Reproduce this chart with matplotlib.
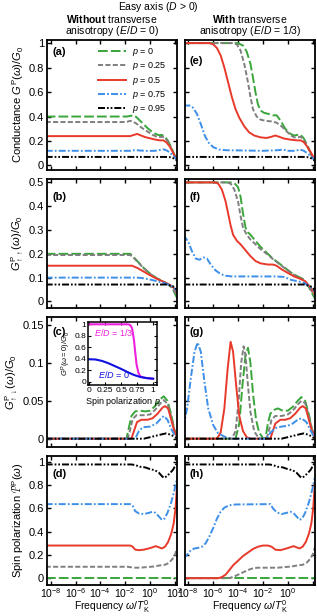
import numpy as np
import matplotlib
matplotlib.use('Agg')
import matplotlib.pyplot as plt

plt.rcParams['font.family'] = ['Liberation Sans', 'DejaVu Sans']
plt.rcParams['mathtext.fontset'] = 'custom'
plt.rcParams['mathtext.rm'] = 'Liberation Sans'
plt.rcParams['mathtext.it'] = 'Liberation Sans:italic'
plt.rcParams['mathtext.bf'] = 'Liberation Sans:bold'
plt.rcParams['font.size'] = 8

# ---- data: x values are log10(omega / T_K^0) ----
p_labels = ['0', '0.25', '0.5', '0.75', '0.95']

# (a) conductance, E/D = 0
a0_x = [-8.4, -1.9, -1.6, -1.35, -1.1, -0.8, -0.5, -0.2, 0.1, 0.4, 0.7, 0.95, 1.2, 1.45, 1.7, 1.95, 2.2]
a0_y = [0.40, 0.40, 0.405, 0.41, 0.395, 0.365, 0.335, 0.305, 0.28, 0.26, 0.248, 0.25, 0.235, 0.2, 0.15, 0.09, 0.03]
a25_x = [-8.4, -1.9, -1.6, -1.3, -1.0, -0.7, -0.4, -0.1, 0.2, 0.5, 0.8, 1.0, 1.25, 1.5, 1.75, 2.0, 2.2]
a25_y = [0.355, 0.355, 0.365, 0.355, 0.335, 0.31, 0.29, 0.27, 0.25, 0.237, 0.232, 0.235, 0.22, 0.185, 0.13, 0.07, 0.03]
a50_x = [-8.4, -1.6, -1.3, -1.05, -0.8, -0.4, 0.0, 0.4, 0.8, 1.05, 1.3, 1.55, 1.8, 2.0, 2.2]
a50_y = [0.24, 0.24, 0.25, 0.258, 0.248, 0.232, 0.222, 0.212, 0.205, 0.206, 0.19, 0.16, 0.115, 0.075, 0.04]
a75_x = [-8.4, -1.6, -1.2, -0.8, -0.2, 0.4, 0.8, 1.1, 1.4, 1.7, 1.95, 2.2]
a75_y = [0.12, 0.12, 0.126, 0.122, 0.119, 0.12, 0.127, 0.132, 0.12, 0.095, 0.07, 0.045]
a95_x = [-8.4, 1.2, 1.6, 1.9, 2.2]
a95_y = [0.07, 0.07, 0.068, 0.058, 0.04]

# (e) conductance, E/D = 1/3
e0_x = [-8.4, -4.0, -3.6, -3.3, -3.0, -2.8, -2.6, -2.4, -2.2, -1.9, -1.5, -1.2, -0.9, -0.6, -0.2, 0.2, 0.5, 0.8, 1.05, 1.3, 1.6, 1.9, 2.2]
e0_y = [1.0, 1.0, 0.98, 0.93, 0.83, 0.72, 0.6, 0.5, 0.45, 0.43, 0.42, 0.41, 0.41, 0.37, 0.3, 0.26, 0.245, 0.25, 0.25, 0.22, 0.16, 0.09, 0.03]
e25_x = [-8.4, -4.4, -4.1, -3.8, -3.5, -3.2, -3.0, -2.8, -2.5, -2.2, -1.8, -1.3, -0.9, -0.5, -0.2, 0.2, 0.5, 0.8, 1.05, 1.3, 1.6, 1.9, 2.2]
e25_y = [1.0, 1.0, 0.99, 0.94, 0.83, 0.68, 0.56, 0.46, 0.4, 0.375, 0.365, 0.36, 0.35, 0.32, 0.29, 0.25, 0.23, 0.23, 0.235, 0.21, 0.15, 0.08, 0.03]
e50_x = [-8.4, -6.3, -6.0, -5.7, -5.4, -5.1, -4.8, -4.5, -4.2, -3.9, -3.5, -3.1, -2.7, -2.2, -1.7, -1.3, -1.0, -0.7, -0.3, 0.3, 0.8, 1.05, 1.3, 1.6, 1.9, 2.2]
e50_y = [1.0, 1.0, 0.99, 0.96, 0.9, 0.8, 0.68, 0.56, 0.46, 0.39, 0.32, 0.27, 0.245, 0.23, 0.225, 0.235, 0.245, 0.235, 0.22, 0.21, 0.205, 0.205, 0.19, 0.15, 0.1, 0.04]
e75_x = [-8.4, -7.9, -7.6, -7.3, -7.0, -6.7, -6.4, -6.0, -5.5, -5.0, -2.0, -0.8, -0.4, 0.0, 0.6, 1.0, 1.3, 1.7, 2.2]
e75_y = [0.49, 0.49, 0.47, 0.42, 0.34, 0.25, 0.19, 0.15, 0.13, 0.125, 0.12, 0.125, 0.13, 0.12, 0.12, 0.13, 0.12, 0.09, 0.04]

# (b) G_up,up, E/D = 0
b0_x = [-8.4, -1.6, -1.3, -1.0, -0.5, 0.0, 0.55, 1.1, 1.5, 1.8, 2.05, 2.2]
b0_y = [0.2, 0.2, 0.185, 0.168, 0.14, 0.117, 0.097, 0.083, 0.07, 0.055, 0.027, 0.012]
b25_x = [-8.4, -1.6, -1.3, -1.0, -0.5, 0.0, 0.55, 1.1, 1.5, 1.8, 2.05, 2.2]
b25_y = [0.195, 0.195, 0.182, 0.166, 0.139, 0.116, 0.096, 0.082, 0.07, 0.058, 0.035, 0.02]
b50_x = [-8.4, -1.45, -1.0, -0.5, 0.0, 0.55, 1.1, 1.5, 1.8, 2.05, 2.2]
b50_y = [0.15, 0.15, 0.14, 0.125, 0.11, 0.095, 0.082, 0.072, 0.062, 0.048, 0.035]
b75_x = [-8.4, -1.0, -0.5, 0.0, 0.55, 1.1, 1.5, 1.8, 2.05, 2.2]
b75_y = [0.1, 0.1, 0.097, 0.092, 0.085, 0.078, 0.07, 0.063, 0.05, 0.04]
b95_x = [-8.4, 1.3, 1.7, 2.0, 2.2]
b95_y = [0.071, 0.071, 0.066, 0.06, 0.045]

# (f) G_up,up, E/D = 1/3
f0_x = [-8.4, -4.6, -4.3, -4.0, -3.8, -3.6, -3.4, -3.2, -3.0, -2.6, -2.2, -1.7, -1.2, -0.7, -0.2, 0.3, 0.8, 1.2, 1.6, 1.9, 2.2]
f0_y = [0.5, 0.5, 0.497, 0.48, 0.44, 0.37, 0.31, 0.29, 0.28, 0.255, 0.23, 0.205, 0.18, 0.16, 0.14, 0.12, 0.105, 0.095, 0.07, 0.04, 0.01]
f25_x = [-8.4, -4.9, -4.6, -4.3, -4.0, -3.8, -3.6, -3.3, -3.0, -2.6, -2.2, -1.7, -1.2, -0.7, -0.2, 0.3, 0.8, 1.2, 1.6, 1.9, 2.2]
f25_y = [0.5, 0.5, 0.495, 0.47, 0.42, 0.36, 0.31, 0.28, 0.26, 0.24, 0.22, 0.2, 0.178, 0.158, 0.138, 0.118, 0.103, 0.093, 0.072, 0.045, 0.02]
f50_x = [-8.4, -5.9, -5.6, -5.3, -5.0, -4.8, -4.6, -4.4, -4.1, -3.8, -3.4, -3.0, -2.6, -2.2, -1.6, -1.2, -0.9, -0.5, 0.0, 0.5, 1.0, 1.4, 1.8, 2.2]
f50_y = [0.5, 0.5, 0.495, 0.47, 0.42, 0.37, 0.32, 0.28, 0.255, 0.24, 0.215, 0.19, 0.17, 0.16, 0.155, 0.155, 0.15, 0.135, 0.12, 0.105, 0.095, 0.085, 0.06, 0.03]
f75_x = [-8.4, -8.0, -7.7, -7.4, -7.1, -6.8, -6.5, -6.2, -5.8, -5.4, -5.0, -4.5, -1.0, -0.3, 0.3, 0.8, 1.3, 1.7, 2.2]
f75_y = [0.28, 0.25, 0.21, 0.18, 0.175, 0.185, 0.18, 0.155, 0.13, 0.115, 0.108, 0.105, 0.105, 0.103, 0.09, 0.085, 0.078, 0.065, 0.04]

# (c) G_up,down, E/D = 0
c0_x = [-8.4, -1.9, -1.7, -1.5, -1.2, -0.8, -0.4, 0.0, 0.4, 0.8, 1.1, 1.4, 1.7, 1.95, 2.2]
c0_y = [0.0, 0.0, 0.015, 0.03, 0.036, 0.037, 0.036, 0.037, 0.043, 0.052, 0.056, 0.05, 0.032, 0.012, 0.002]
c25_x = [-8.4, -1.8, -1.6, -1.4, -1.1, -0.5, 0.0, 0.4, 0.8, 1.1, 1.4, 1.7, 1.95, 2.2]
c25_y = [0.0, 0.0, 0.012, 0.026, 0.031, 0.031, 0.032, 0.038, 0.046, 0.051, 0.046, 0.03, 0.012, 0.002]
c50_x = [-8.4, -1.5, -1.3, -1.05, -0.7, -0.2, 0.2, 0.6, 1.0, 1.2, 1.45, 1.7, 1.95, 2.2]
c50_y = [0.0, 0.0, 0.01, 0.022, 0.025, 0.025, 0.027, 0.033, 0.041, 0.043, 0.04, 0.025, 0.01, 0.002]
c75_x = [-8.4, -1.2, -0.9, -0.6, 0.0, 0.5, 0.9, 1.1, 1.4, 1.7, 2.0, 2.2]
c75_y = [0.0, 0.0, 0.01, 0.015, 0.016, 0.02, 0.027, 0.03, 0.025, 0.013, 0.004, 0.0]
c95_x = [-8.4, -0.5, 0.0, 0.5, 1.0, 1.3, 1.7, 2.2]
c95_y = [0.0, 0.0, 0.002, 0.004, 0.006, 0.007, 0.005, 0.0]

# (g) G_up,down, E/D = 1/3
g0_x = [-8.4, -4.2, -3.9, -3.65, -3.4, -3.2, -3.0, -2.8, -2.55, -2.3, -2.0, -1.8, -1.6, -1.4, -1.1, -0.8, -0.4, 0.0, 0.4, 0.8, 1.1, 1.4, 1.7, 1.95, 2.2]
g0_y = [0.0, 0.0, 0.02, 0.07, 0.11, 0.12, 0.1, 0.06, 0.025, 0.008, 0.001, 0.0, 0.02, 0.033, 0.038, 0.04, 0.037, 0.037, 0.042, 0.05, 0.055, 0.05, 0.032, 0.012, 0.003]
g25_x = [-8.4, -4.5, -4.2, -3.95, -3.75, -3.55, -3.4, -3.2, -3.0, -2.7, -2.4, -2.2, -1.7, -1.5, -1.3, -1.0, -0.5, 0.0, 0.4, 0.8, 1.1, 1.4, 1.7, 1.95, 2.2]
g25_y = [0.0, 0.0, 0.01, 0.05, 0.1, 0.122, 0.11, 0.07, 0.035, 0.01, 0.002, 0.0, 0.0, 0.012, 0.025, 0.03, 0.03, 0.032, 0.037, 0.045, 0.05, 0.047, 0.03, 0.012, 0.003]
g50_x = [-8.4, -5.7, -5.4, -5.1, -4.85, -4.6, -4.4, -4.15, -3.9, -3.6, -3.3, -3.0, -1.4, -1.2, -1.0, -0.6, -0.2, 0.2, 0.6, 1.0, 1.2, 1.45, 1.7, 1.95, 2.2]
g50_y = [0.0, 0.0, 0.008, 0.04, 0.09, 0.128, 0.115, 0.07, 0.03, 0.01, 0.002, 0.0, 0.0, 0.01, 0.02, 0.025, 0.025, 0.027, 0.033, 0.041, 0.043, 0.04, 0.025, 0.01, 0.002]
g75_x = [-8.4, -8.1, -7.8, -7.5, -7.25, -7.0, -6.7, -6.4, -6.0, -5.6, -5.0, -4.5, -1.7, -1.4, -1.0, -0.5, 0.0, 0.4, 0.8, 1.1, 1.5, 1.8, 2.2]
g75_y = [0.015, 0.04, 0.08, 0.115, 0.127, 0.115, 0.075, 0.04, 0.018, 0.007, 0.002, 0.0, 0.0, 0.008, 0.014, 0.016, 0.017, 0.02, 0.025, 0.027, 0.022, 0.012, 0.0]

# (d) spin polarization, E/D = 0
d0_x = [-8.4, 2.2]
d0_y = [0.0, 0.0]
d25_x = [-8.4, -1.8, -1.3, -0.8, -0.3, 0.3, 0.8, 1.2, 1.5, 1.8, 2.0, 2.2]
d25_y = [0.098, 0.098, 0.09, 0.09, 0.095, 0.1, 0.11, 0.115, 0.13, 0.165, 0.2, 0.27]
d50_x = [-8.4, -1.6, -1.4, -1.2, -0.9, -0.5, -0.1, 0.2, 0.45, 0.7, 0.95, 1.2, 1.45, 1.7, 1.9, 2.05, 2.2]
d50_y = [0.28, 0.28, 0.27, 0.245, 0.24, 0.245, 0.255, 0.265, 0.275, 0.265, 0.255, 0.27, 0.31, 0.38, 0.47, 0.6, 0.85]
d75_x = [-8.4, -1.6, -1.4, -1.2, -0.9, -0.5, -0.1, 0.2, 0.45, 0.7, 0.95, 1.15, 1.4, 1.7, 1.95, 2.2]
d75_y = [0.635, 0.635, 0.62, 0.575, 0.555, 0.55, 0.56, 0.57, 0.56, 0.53, 0.5, 0.51, 0.56, 0.65, 0.75, 0.87]
d95_x = [-8.4, -1.5, -1.2, -0.8, -0.4, 0.0, 0.4, 0.7, 1.0, 1.15, 1.35, 1.6, 1.85, 2.05, 2.2]
d95_y = [0.975, 0.975, 0.97, 0.955, 0.95, 0.935, 0.925, 0.905, 0.87, 0.86, 0.875, 0.9, 0.93, 0.97, 0.99]

# (h) spin polarization, E/D = 1/3
h25_x = [-8.4, -4.8, -4.4, -4.0, -3.6, -3.2, -2.8, -2.4, -2.0, -1.3, -0.8, -0.3, 0.3, 0.8, 1.2, 1.5, 1.8, 2.0, 2.2]
h25_y = [0.0, 0.0, 0.01, 0.03, 0.05, 0.07, 0.085, 0.09, 0.09, 0.09, 0.09, 0.095, 0.1, 0.11, 0.115, 0.13, 0.165, 0.2, 0.27]
h50_x = [-8.4, -5.6, -5.3, -5.0, -4.7, -4.4, -4.0, -3.6, -3.2, -2.8, -2.4, -2.0, -1.6, -1.3, -1.0, -0.6, -0.1, 0.2, 0.45, 0.7, 0.95, 1.2, 1.45, 1.7, 1.9, 2.05, 2.2]
h50_y = [0.0, 0.0, 0.01, 0.03, 0.07, 0.11, 0.15, 0.19, 0.22, 0.25, 0.27, 0.28, 0.28, 0.27, 0.245, 0.24, 0.255, 0.265, 0.275, 0.265, 0.255, 0.27, 0.31, 0.38, 0.47, 0.6, 0.85]
h75_x = [-8.4, -8.1, -7.8, -7.5, -7.2, -6.9, -6.6, -6.3, -6.0, -5.7, -5.4, -5.1, -4.7, -4.2, -1.4, -1.2, -0.9, -0.5, -0.1, 0.2, 0.45, 0.7, 0.95, 1.15, 1.4, 1.7, 1.95, 2.2]
h75_y = [0.17, 0.2, 0.24, 0.255, 0.26, 0.27, 0.3, 0.36, 0.43, 0.51, 0.57, 0.605, 0.625, 0.632, 0.635, 0.6, 0.565, 0.55, 0.56, 0.57, 0.56, 0.53, 0.5, 0.51, 0.56, 0.65, 0.75, 0.87]

# inset: G^P(omega=0) vs spin polarization
in13_p = [0.0, 0.6, 0.64, 0.67, 0.7, 0.72, 0.74, 0.77, 0.8, 0.85, 0.9, 1.0]
in13_g = [1.0, 1.0, 0.99, 0.93, 0.72, 0.5, 0.3, 0.15, 0.09, 0.07, 0.06, 0.05]
in0_p = [0.0, 0.1, 0.2, 0.3, 0.4, 0.5, 0.6, 0.7, 0.8, 0.9, 1.0]
in0_g = [0.39, 0.385, 0.36, 0.32, 0.27, 0.22, 0.165, 0.115, 0.08, 0.06, 0.05]

colors = ['#3aa53a', '#7f7f7f', '#e8392b', '#3d8fe8', 'black']
dash = [(5, 1.6), (2.6, 1.2), None, (3.6, 1.1, 0.9, 1.1), (3.6, 1.0, 0.9, 1.0, 0.9, 1.0)]

panels = {
    'a': [(a0_x, a0_y), (a25_x, a25_y), (a50_x, a50_y), (a75_x, a75_y), (a95_x, a95_y)],
    'e': [(e0_x, e0_y), (e25_x, e25_y), (e50_x, e50_y), (e75_x, e75_y), (a95_x, a95_y)],
    'b': [(b0_x, b0_y), (b25_x, b25_y), (b50_x, b50_y), (b75_x, b75_y), (b95_x, b95_y)],
    'f': [(f0_x, f0_y), (f25_x, f25_y), (f50_x, f50_y), (f75_x, f75_y), (b95_x, b95_y)],
    'c': [(c0_x, c0_y), (c25_x, c25_y), (c50_x, c50_y), (c75_x, c75_y), (c95_x, c95_y)],
    'g': [(g0_x, g0_y), (g25_x, g25_y), (g50_x, g50_y), (g75_x, g75_y), (c95_x, c95_y)],
    'd': [(d0_x, d0_y), (d25_x, d25_y), (d50_x, d50_y), (d75_x, d75_y), (d95_x, d95_y)],
    'h': [(d0_x, d0_y), (h25_x, h25_y), (h50_x, h50_y), (h75_x, h75_y), (d95_x, d95_y)],
}
# vertical position of the panel letters (axes fraction)
letter_y = {'a': 0.905, 'e': 0.84, 'b': 0.86, 'f': 0.86, 'c': 0.885, 'g': 0.885, 'd': 0.855, 'h': 0.855}

fig, axs = plt.subplots(4, 2, figsize=(3.17, 6.16), dpi=100)
fig.subplots_adjust(left=0.148, right=0.994, top=0.935, bottom=0.050, hspace=0.07, wspace=0.055)

order = [['a', 'e'], ['b', 'f'], ['c', 'g'], ['d', 'h']]
ylims = [(-0.033, 1.025), (-0.028, 0.516), (-0.0105, 0.1605), (-0.06, 1.05)]
yticks = [[0, 0.2, 0.4, 0.6, 0.8, 1], [0, 0.1, 0.2, 0.3, 0.4, 0.5], [0, 0.05, 0.1, 0.15], [0, 0.2, 0.4, 0.6, 0.8, 1]]
ylabels = ['Conductance $G^{\\mathrm{P}}(\\omega)/G_0$',
           '$G^{\\mathrm{P}}_{\\uparrow\\uparrow}(\\omega)/G_0$',
           '$G^{\\mathrm{P}}_{\\uparrow\\downarrow}(\\omega)/G_0$',
           'Spin polarization $\\mathcal{P}^{\\mathrm{P}}(\\omega)$']

for r in range(4):
    for c in range(2):
        ax = axs[r, c]
        key = order[r][c]
        for i, (xs, ys) in enumerate(panels[key]):
            kw = dict(color=colors[i], lw=1.4, label='$p$ = ' + p_labels[i])
            if dash[i] is None:
                ax.plot(10.0 ** np.array(xs), ys, '-', **kw)
            else:
                ax.plot(10.0 ** np.array(xs), ys, '--', dashes=dash[i], **kw)
        ax.set_xscale('log')
        ax.set_xlim(10 ** -8.3, 10 ** 2.2)
        ax.set_ylim(*ylims[r])
        ax.set_yticks(yticks[r])
        ax.set_xticks([1e-8, 1e-6, 1e-4, 1e-2, 1e0, 1e2])
        ax.xaxis.set_minor_locator(matplotlib.ticker.NullLocator())
        ax.tick_params(direction='in', top=True, right=True, length=3, width=1, labelsize=8, pad=2)
        ax.tick_params(axis='x', labelsize=7.5, pad=1)
        for s in ax.spines.values():
            s.set_linewidth(1.3)
        if c == 0:
            ax.set_yticklabels(['%g' % v for v in yticks[r]])
            ax.set_ylabel(ylabels[r], fontsize=8, labelpad=2)
        else:
            ax.set_yticklabels([])
        if r == 3:
            if c == 0:
                ax.set_xticklabels(['$10^{-8}$', '$10^{-6}$', '$10^{-4}$', '$10^{-2}$', '$10^{0}$', '$10^{2}$'])
            else:
                ax.set_xticklabels(['$10^{-8}$', '$10^{-6}$', '$10^{-4}$', '$10^{-2}$', '$10^{0}$', ''])
            ax.set_xlabel('Frequency $\\omega/T_{\\mathrm{K}}^{0}$', fontsize=7.5)
            ax.xaxis.set_label_coords(0.5, -0.102)
        else:
            ax.set_xticklabels([])
        ax.text(0.04, letter_y[key], '(' + key + ')', transform=ax.transAxes, fontsize=8,
                fontweight='bold', va='center', ha='left')

axs[0, 0].legend(loc='upper left', bbox_to_anchor=(0.36, 0.98), frameon=False, fontsize=6.5,
                 handlelength=3.2, labelspacing=0.25, handletextpad=0.6, borderaxespad=0)

# inset in (c)
ins = fig.add_axes([88 / 317, 1 - 385 / 616, 69 / 317, 63 / 616])
ins.plot(in13_p, in13_g, color='#ee22dd', lw=1.5)
ins.plot(in0_p, in0_g, color='#1010e0', lw=1.5)
ins.set_xlim(-0.02, 1.06)
ins.set_ylim(-0.06, 1.04)
ins.set_xticks([0, 0.25, 0.5, 0.75, 1])
ins.set_xticklabels(['0', '0.25', '0.5', '0.75', '1'])
ins.set_yticks([0, 0.2, 0.4, 0.6, 0.8, 1])
ins.set_yticklabels(['0', '0.2', '0.4', '0.6', '0.8', '1'])
ins.tick_params(direction='in', top=True, right=True, length=2, labelsize=6, pad=1.5)
for s in ins.spines.values():
    s.set_linewidth(1.1)
ins.set_xlabel('Spin polarization $p$', fontsize=6.5, labelpad=1)
ins.set_ylabel('$G^{\\mathrm{P}}(\\omega=0)/G_0$', fontsize=5.5, labelpad=1)
ins.text(0.08, 0.86, '$E/D$ = 1/3', color='#ee22dd', fontsize=6.5, va='center')
ins.text(0.14, 0.12, '$E/D$ = 0', color='#1010e0', fontsize=6.5, va='center')

# headers
fig.text(0.5, 1 - 6.5 / 616, 'Easy axis ($D$ > 0)', ha='center', va='center', fontsize=7.5)
fig.text(112 / 317, 1 - 19 / 616, '$\\mathbf{Without}$ transverse', ha='center', va='center', fontsize=7.5)
fig.text(112 / 317, 1 - 31.5 / 616, 'anisotropy ($E/D$ = 0)', ha='center', va='center', fontsize=7.5)
fig.text(250 / 317, 1 - 19 / 616, '$\\mathbf{With}$ transverse', ha='center', va='center', fontsize=7.5)
fig.text(250 / 317, 1 - 31.5 / 616, 'anisotropy ($E/D$ = 1/3)', ha='center', va='center', fontsize=7.5)

fig.savefig('out.png', dpi=100)
